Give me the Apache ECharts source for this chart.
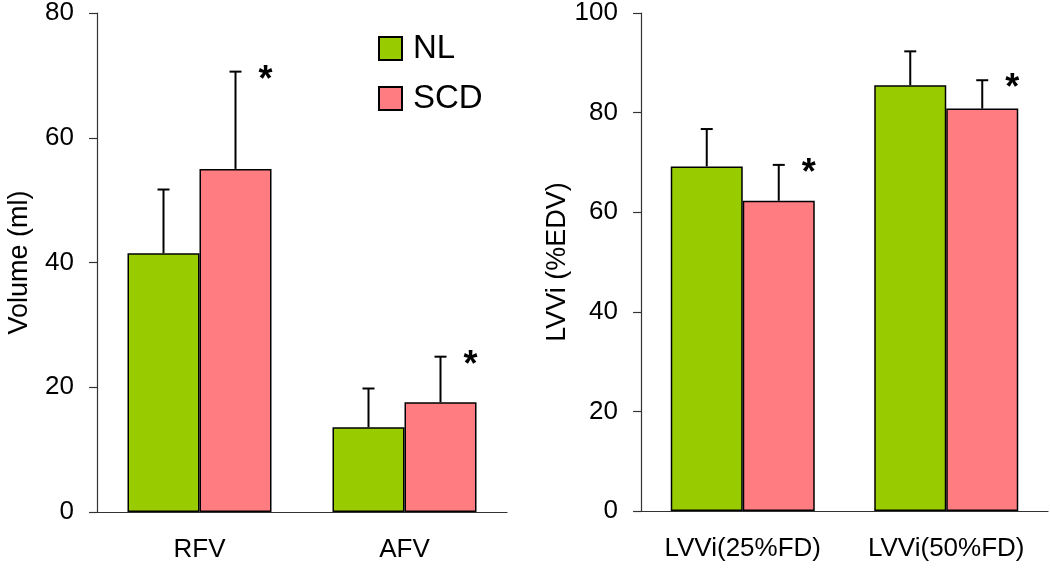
<!DOCTYPE html>
<html>
<head>
<meta charset="utf-8">
<script src="https://cdn.jsdelivr.net/npm/echarts@6/dist/echarts.min.js"></script>
<style>html,body{margin:0;padding:0;background:#fff}#c{width:1050px;height:568px}</style>
</head>
<body>
<div id="c"></div>
<script>
// ---- data ----
const leftCategories = ['RFV', 'AFV'];
const rightCategories = ['LVVi(25%FD)', 'LVVi(50%FD)'];
const leftNL = [41.5, 13.6];
const leftNLsd = [10.2, 6.2];
const leftSCD = [55.0, 17.6];
const leftSCDsd = [15.6, 7.3];
const rightNL = [69.2, 85.5];
const rightNLsd = [7.5, 6.8];
const rightSCD = [62.3, 80.8];
const rightSCDsd = [7.2, 5.7];
const leftSig = ['*', '*'];
const rightSig = ['*', '*'];
const leftTicks = [0, 20, 40, 60, 80];
const rightTicks = [0, 20, 40, 60, 80, 100];

const FONT = 'Liberation Sans, Arial, sans-serif';
const GREEN = '#99CC00';
const PINK = '#FF7C80';
const BAR_W = 72;

function errData(means, sds, side, sig) {
  return means.map((m, i) => [i, m, sds[i], side, sig ? sig[i] : '']);
}

function renderErr(params, api) {
  const cat = api.value(0), mean = api.value(1), sd = api.value(2), side = api.value(3);
  const star = api.value(4);
  const base = api.coord([cat, mean]);
  const top = api.coord([cat, mean + sd]);
  const x = base[0] + side * BAR_W / 2;
  const children = [
    {type: 'line', shape: {x1: x, y1: base[1], x2: x, y2: top[1]}, style: {stroke: '#000', lineWidth: 2}},
    {type: 'line', shape: {x1: x - 6, y1: top[1], x2: x + 6, y2: top[1]}, style: {stroke: '#000', lineWidth: 2}}
  ];
  if (star && star !== '' && star !== '-') {
    children.push({type: 'text', x: x + 30, y: top[1] + 9,
      style: {text: '*', font: 'bold 36px ' + FONT, fill: '#000', align: 'center', verticalAlign: 'middle'}});
  }
  return {type: 'group', children};
}

const axisLineStyle = {color: '#333', width: 1.2};

const xAxisCommon = {
  type: 'category',
  axisLine: {lineStyle: axisLineStyle},
  axisTick: {length: 8, inside: false, lineStyle: axisLineStyle},
  axisLabel: {color: '#000', fontSize: 26, fontFamily: FONT, margin: 25},
  splitLine: {show: false}
};
const yAxisCommon = {
  type: 'value', min: 0, interval: 20,
  nameLocation: 'middle', nameRotate: 90,
  nameTextStyle: {color: '#000', fontSize: 27, fontFamily: FONT},
  axisLine: {show: true, lineStyle: axisLineStyle},
  axisTick: {show: true, length: 8, lineStyle: axisLineStyle},
  axisLabel: {color: '#000', fontSize: 26, fontFamily: FONT, margin: 23},
  splitLine: {show: false}
};

const barStyle = c => ({color: c, borderColor: '#000', borderWidth: 1.5});

const option = {
  animation: false,
  backgroundColor: '#fff',
  grid: [
    {left: 97, width: 410, top: 11, height: 501},
    {left: 641, width: 407, top: 11, height: 500}
  ],
  legend: {
    orient: 'vertical', left: 378, top: 32, padding: 0,
    itemWidth: 23, itemHeight: 23, itemGap: 17,
    icon: 'rect',
    data: ['NL', 'SCD'],
    textStyle: {color: '#000', fontSize: 33, fontFamily: FONT, padding: [0, 0, 0, 6]}
  },
  xAxis: [
    Object.assign({}, xAxisCommon, {gridIndex: 0, data: leftCategories}),
    Object.assign({}, xAxisCommon, {gridIndex: 1, data: rightCategories})
  ],
  yAxis: [
    Object.assign({}, yAxisCommon, {gridIndex: 0, max: leftTicks[leftTicks.length - 1], name: 'Volume (ml)', nameGap: 64}),
    Object.assign({}, yAxisCommon, {gridIndex: 1, max: rightTicks[rightTicks.length - 1], name: 'LVVi (%EDV)', nameGap: 70})
  ],
  series: [
    {name: 'NL', type: 'bar', xAxisIndex: 0, yAxisIndex: 0, data: leftNL, barWidth: BAR_W, barGap: '0%', itemStyle: barStyle(GREEN)},
    {name: 'SCD', type: 'bar', xAxisIndex: 0, yAxisIndex: 0, data: leftSCD, barWidth: BAR_W, barGap: '0%', itemStyle: barStyle(PINK)},
    {name: 'NL', type: 'bar', xAxisIndex: 1, yAxisIndex: 1, data: rightNL, barWidth: BAR_W, barGap: '0%', itemStyle: barStyle(GREEN)},
    {name: 'SCD', type: 'bar', xAxisIndex: 1, yAxisIndex: 1, data: rightSCD, barWidth: BAR_W, barGap: '0%', itemStyle: barStyle(PINK)},
    {type: 'custom', xAxisIndex: 0, yAxisIndex: 0, renderItem: renderErr, encode: {x: 0, y: 1}, data: errData(leftNL, leftNLsd, -1, null), z: 5, clip: false, silent: true},
    {type: 'custom', xAxisIndex: 0, yAxisIndex: 0, renderItem: renderErr, encode: {x: 0, y: 1}, data: errData(leftSCD, leftSCDsd, 1, leftSig), z: 5, clip: false, silent: true},
    {type: 'custom', xAxisIndex: 1, yAxisIndex: 1, renderItem: renderErr, encode: {x: 0, y: 1}, data: errData(rightNL, rightNLsd, -1, null), z: 5, clip: false, silent: true},
    {type: 'custom', xAxisIndex: 1, yAxisIndex: 1, renderItem: renderErr, encode: {x: 0, y: 1}, data: errData(rightSCD, rightSCDsd, 1, rightSig), z: 5, clip: false, silent: true}
  ]
};

echarts.init(document.getElementById('c'), null, {renderer: 'canvas'}).setOption(option);
</script>
</body>
</html>
